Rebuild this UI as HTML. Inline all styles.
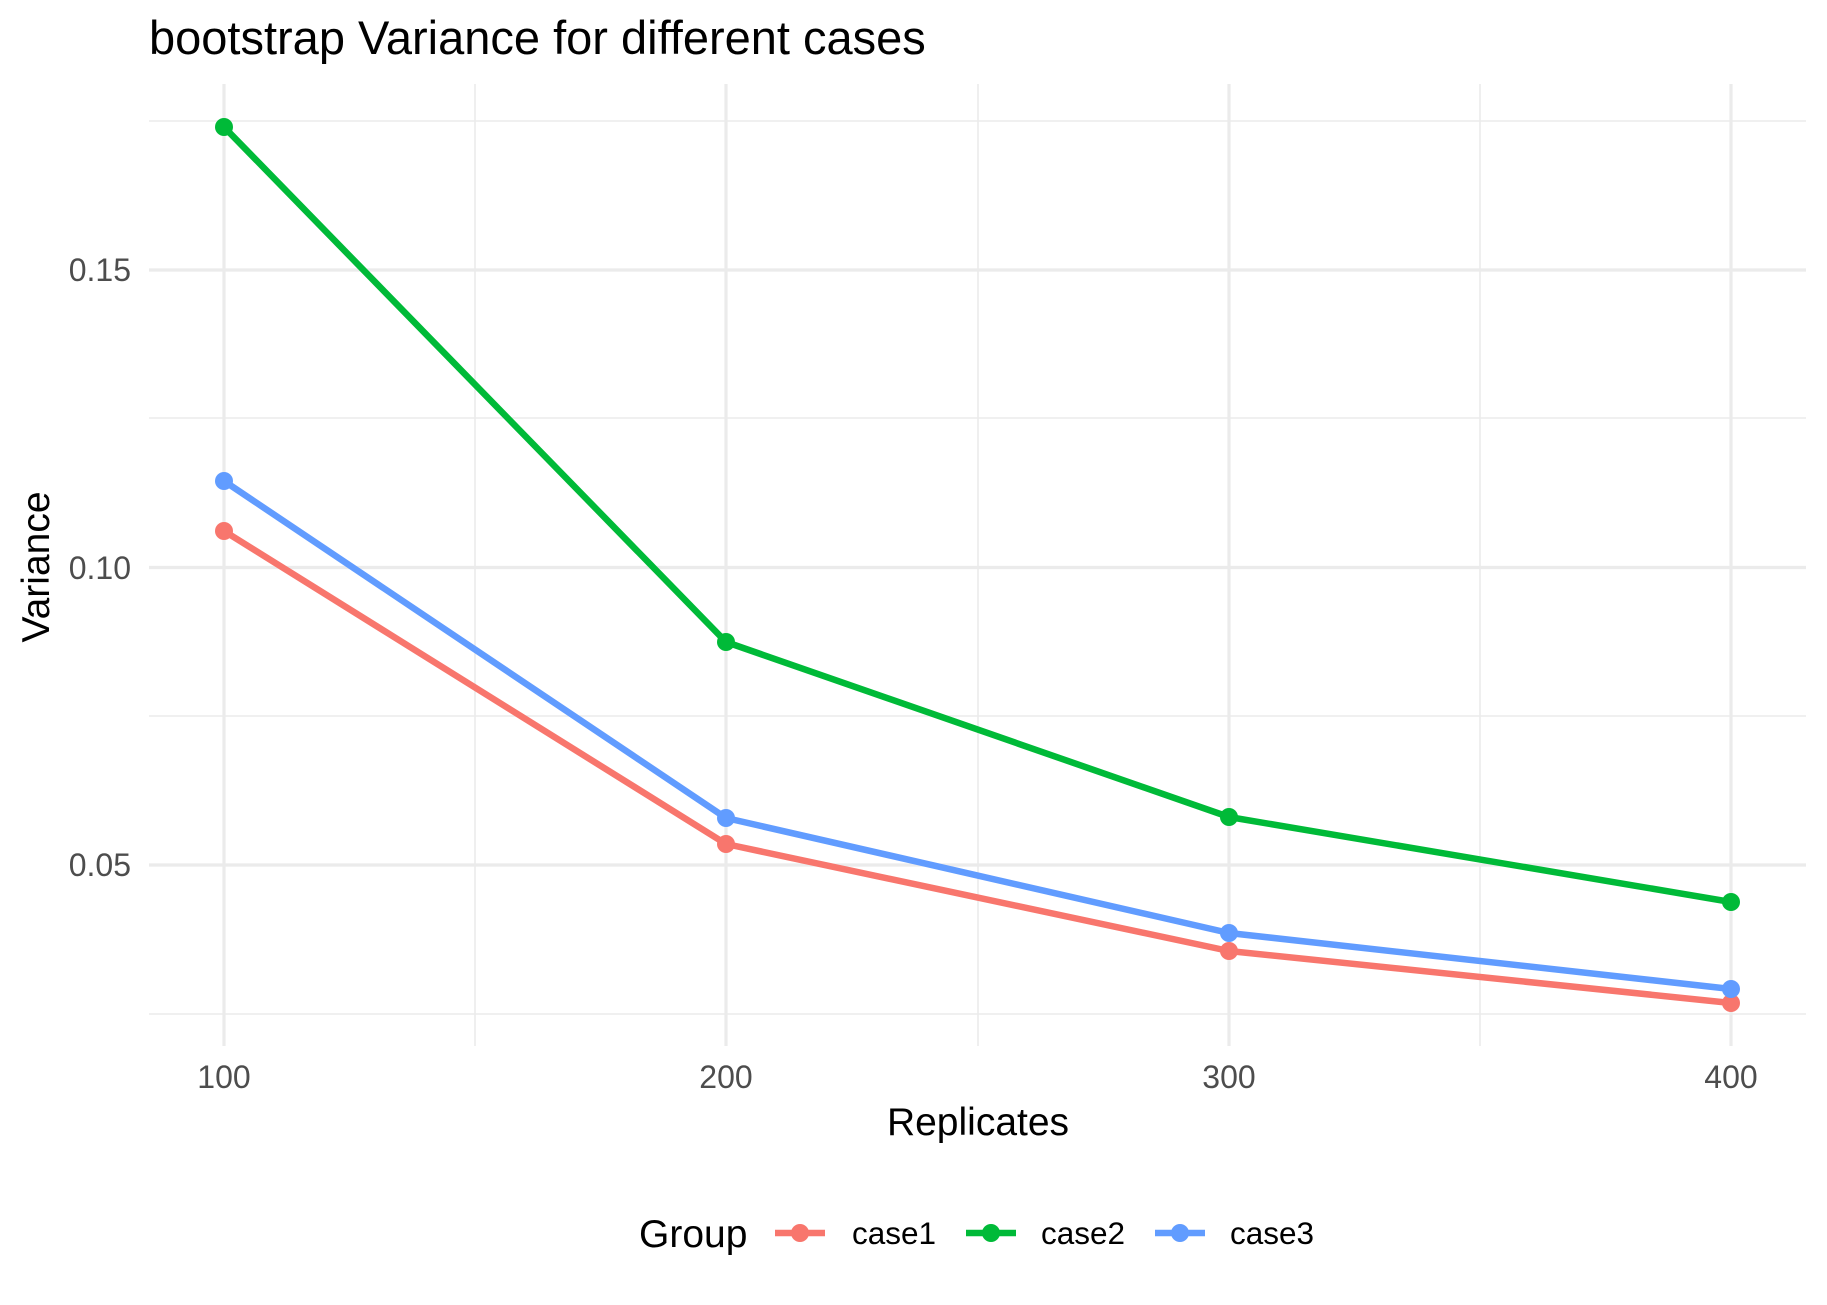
<!DOCTYPE html>
<html><head><meta charset="utf-8"><style>body{margin:0;background:#fff}svg{display:block}</style></head><body>
<svg width="1827" height="1305" viewBox="0 0 1827 1305" xmlns="http://www.w3.org/2000/svg" font-family="Liberation Sans, sans-serif">
<rect width="1827" height="1305" fill="#fff"/>
<g stroke="#ebebeb" stroke-width="1.6">
<line x1="149" x2="1806" y1="121" y2="121"/><line x1="149" x2="1806" y1="418" y2="418"/><line x1="149" x2="1806" y1="716" y2="716"/><line x1="149" x2="1806" y1="1014" y2="1014"/>
<line x1="475" x2="475" y1="84" y2="1046"/><line x1="978" x2="978" y1="84" y2="1046"/><line x1="1480" x2="1480" y1="84" y2="1046"/>
</g>
<g stroke="#ebebeb" stroke-width="3.2">
<line x1="149" x2="1806" y1="270" y2="270"/><line x1="149" x2="1806" y1="567.5" y2="567.5"/><line x1="149" x2="1806" y1="865" y2="865"/>
<line x1="224" x2="224" y1="84" y2="1046"/><line x1="726" x2="726" y1="84" y2="1046"/><line x1="1229" x2="1229" y1="84" y2="1046"/><line x1="1731" x2="1731" y1="84" y2="1046"/>
</g>
<g fill="none" stroke-width="6.5" stroke-linejoin="round">
<polyline stroke="#F8766D" points="224,531 726,844 1229,951 1731,1003"/>
<polyline stroke="#00BA38" points="224,127 726,642 1229,817 1731,902"/>
<polyline stroke="#619CFF" points="224,481 726,818 1229,933 1731,989"/>
</g>
<g fill="#F8766D"><circle cx="224" cy="531" r="9"/><circle cx="726" cy="844" r="9"/><circle cx="1229" cy="951" r="9"/><circle cx="1731" cy="1003" r="9"/></g>
<g fill="#00BA38"><circle cx="224" cy="127" r="9"/><circle cx="726" cy="642" r="9"/><circle cx="1229" cy="817" r="9"/><circle cx="1731" cy="902" r="9"/></g>
<g fill="#619CFF"><circle cx="224" cy="481" r="9"/><circle cx="726" cy="818" r="9"/><circle cx="1229" cy="933" r="9"/><circle cx="1731" cy="989" r="9"/></g>
<g fill="#4d4d4d" font-size="32" text-anchor="end">
<text x="131" y="281">0.15</text><text x="131" y="579">0.10</text><text x="131" y="876">0.05</text>
</g>
<g fill="#4d4d4d" font-size="32" text-anchor="middle">
<text x="224" y="1088">100</text><text x="726" y="1088">200</text><text x="1229" y="1088">300</text><text x="1731" y="1088">400</text>
</g>
<text x="978" y="1135" font-size="39" text-anchor="middle" fill="#000">Replicates</text>
<text transform="translate(49,567) rotate(-90)" font-size="39" text-anchor="middle" fill="#000">Variance</text>
<text x="149" y="54" font-size="47" fill="#000">bootstrap Variance for different cases</text>
<text x="639" y="1247" font-size="39" fill="#000">Group</text>
<line x1="775" x2="825" y1="1233" y2="1233" stroke="#F8766D" stroke-width="6.5"/><circle cx="800" cy="1233" r="9" fill="#F8766D"/>
<text x="852" y="1244" font-size="31.5" fill="#000">case1</text>
<line x1="966" x2="1016" y1="1233" y2="1233" stroke="#00BA38" stroke-width="6.5"/><circle cx="991" cy="1233" r="9" fill="#00BA38"/>
<text x="1041" y="1244" font-size="31.5" fill="#000">case2</text>
<line x1="1155" x2="1205" y1="1233" y2="1233" stroke="#619CFF" stroke-width="6.5"/><circle cx="1180" cy="1233" r="9" fill="#619CFF"/>
<text x="1230" y="1244" font-size="31.5" fill="#000">case3</text>
</svg>
</body></html>
